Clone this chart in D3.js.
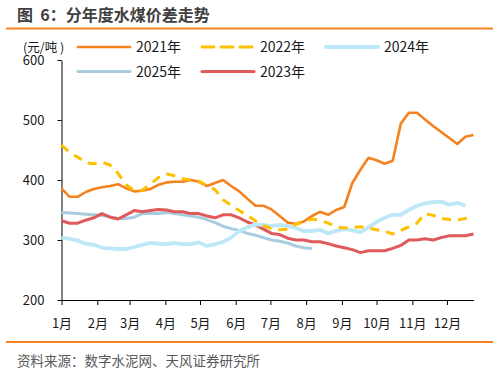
<!DOCTYPE html>
<html>
<head>
<meta charset="utf-8">
<script src="https://cdn.jsdelivr.net/npm/d3@7"></script>
<style>
  body { margin: 0; background: #fff; }
  svg { font-family: "Noto Sans CJK SC", "Noto Sans", sans-serif; }
</style>
</head>
<body>
<div id="chart"></div>
<script>
// Weekly values (元/吨), one point per week starting from 1 Jan
var v2021 = [386, 372, 372, 380, 385, 388, 390, 393, 386, 381, 382, 385, 392, 396, 397, 397,
             400, 397, 390, 395, 400, 390, 381, 369, 357, 357, 351, 340, 329, 327, 331, 340,
             347, 342, 350, 355, 395, 417, 437, 433, 427, 432, 494, 512, 512, 501, 490, 480,
             470, 460, 472, 475];
var v2022 = [458, 446, 438, 429, 427, 430, 425, 411, 392, 382, 383, 393, 404, 410, 407, 402,
             400, 398, 391, 384, 367, 358, 349, 341, 332, 324, 319, 317, 318, 326, 330, 335,
             333, 328, 322, 320, 321, 322, 320, 317, 315, 310, 316, 322, 328, 344, 341, 336,
             334, 333, 336, 338];
var v2023 = [332, 328, 328, 333, 337, 344, 338, 335, 342, 349, 347, 349, 351, 350, 347, 347,
             344, 344, 340, 337, 342, 342, 337, 330, 325, 318, 311, 309, 303, 300, 300, 297,
             297, 294, 290, 287, 284, 279, 282, 282, 282, 286, 291, 300, 300, 302, 300, 304,
             307, 307, 307, 310];
var v2024 = [304, 302, 299, 294, 292, 287, 286, 285, 285, 288, 292, 295, 294, 293, 295, 293,
             293, 296, 290, 293, 297, 304, 315, 321, 326, 325, 323, 325, 323, 320, 315, 315,
             317, 311, 315, 318, 316, 313, 321, 330, 337, 342, 342, 350, 357, 361, 363, 364,
             359, 362, 357];
var v2025 = [346, 345, 344, 343, 342, 341, 339, 336, 336, 338, 344, 344, 344, 346, 344, 342,
             340, 338, 334, 329, 323, 319, 316, 311, 308, 304, 300, 298, 295, 290, 287, 286];

var yTicks = [200, 300, 400, 500, 600];
var titleText = "图 6：分年度水煤价差走势";
var sourceText = "资料来源：数字水泥网、天风证券研究所";
var unitText = "(元/吨 )";

// Series in drawing order, legend placement handled separately
var series = [
    { name: "2021年", values: v2021, color: "#F5821F", width: 2.6, dash: null },
    { name: "2025年", values: v2025, color: "#A9CDE0", width: 3, dash: null },
    { name: "2023年", values: v2023, color: "#E0595B", width: 3, dash: null },
    { name: "2024年", values: v2024, color: "#BDE8F7", width: 3.8, dash: null },
    { name: "2022年", values: v2022, color: "#FFC000", width: 3, dash: "9,7" }
];

var svgWidth = 499;
var svgHeight = 371;

var svg = d3.select("#chart")
    .append("svg")
    .attr("width", svgWidth)
    .attr("height", svgHeight);

// Title and orange rules
svg.append("text")
    .attr("x", 17)
    .attr("y", 21)
    .attr("font-size", "16px")
    .attr("font-weight", "bold")
    .attr("fill", "#404040")
    .attr("xml:space", "preserve")
    .text(titleText.replace(" ", "  "));

svg.append("line")
    .attr("x1", 6).attr("x2", 493)
    .attr("y1", 28.5).attr("y2", 28.5)
    .attr("stroke", "#F5821F")
    .attr("stroke-width", 1.8);

svg.append("line")
    .attr("x1", 6).attr("x2", 493)
    .attr("y1", 342).attr("y2", 342)
    .attr("stroke", "#F5821F")
    .attr("stroke-width", 1.8);

svg.append("text")
    .attr("x", 17)
    .attr("y", 366)
    .attr("font-size", "13.5px")
    .attr("fill", "#595959")
    .text(sourceText);

// Scales
var start = new Date(2021, 0, 1);
var xScale = d3.scaleTime()
    .domain([start, new Date(2021, 11, 24)])
    .range([61.5, 473.5]);

var yScale = d3.scaleLinear()
    .domain([200, 600])
    .range([300, 60]);

function weekDate(i) { return d3.timeDay.offset(start, i * 7); }

// Axes
var xAxis = d3.axisBottom(xScale)
    .ticks(d3.timeMonth.every(1))
    .tickFormat(d => (d.getMonth() + 1) + "月")
    .tickSize(5)
    .tickSizeOuter(0)
    .tickPadding(14);

var yAxis = d3.axisLeft(yScale)
    .tickValues(yTicks)
    .tickSize(4)
    .tickSizeOuter(0)
    .tickPadding(13);

var gx = svg.append("g")
    .attr("transform", "translate(0,300)")
    .call(xAxis);

var gy = svg.append("g")
    .attr("transform", "translate(61.5,0)")
    .call(yAxis);

[gx, gy].forEach(function (g) {
    g.selectAll("path, line").attr("stroke", "#000").attr("stroke-width", 1);
    g.selectAll("text")
        .attr("font-size", "13px")
        .attr("fill", "#1a1a1a")
        .attr("font-family", "\"Noto Sans CJK SC\", sans-serif");
});

svg.append("text")
    .attr("x", 23)
    .attr("y", 52)
    .attr("font-size", "12.5px")
    .attr("fill", "#1a1a1a")
    .text(unitText);

// Lines
var line = d3.line()
    .x((d, i) => xScale(weekDate(i)))
    .y(d => yScale(d));

svg.append("g")
    .selectAll("path")
    .data(series)
    .enter()
    .append("path")
    .attr("d", d => line(d.values))
    .attr("fill", "none")
    .attr("stroke", d => d.color)
    .attr("stroke-width", d => d.width)
    .attr("stroke-dasharray", d => d.dash)
    .attr("stroke-linejoin", "round");

// Legend
var legendItems = [
    { s: series[0], x: 78, y: 47 },
    { s: series[4], x: 202, y: 47 },
    { s: series[3], x: 326, y: 47 },
    { s: series[1], x: 78, y: 71.5 },
    { s: series[2], x: 202, y: 71.5 }
];

var legend = svg.append("g")
    .selectAll("g")
    .data(legendItems)
    .enter()
    .append("g")
    .attr("transform", d => `translate(${d.x},${d.y})`);

legend.append("line")
    .attr("x1", 0).attr("x2", 52)
    .attr("y1", 0).attr("y2", 0)
    .attr("stroke", d => d.s.color)
    .attr("stroke-width", d => d.s.width)
    .attr("stroke-dasharray", d => d.s.dash ? "12,7" : null)
    .attr("stroke-linecap", "round");

legend.append("text")
    .attr("x", 58)
    .attr("y", 5)
    .attr("font-size", "14px")
    .attr("fill", "#1a1a1a")
    .text(d => d.s.name);
</script>
</body>
</html>
